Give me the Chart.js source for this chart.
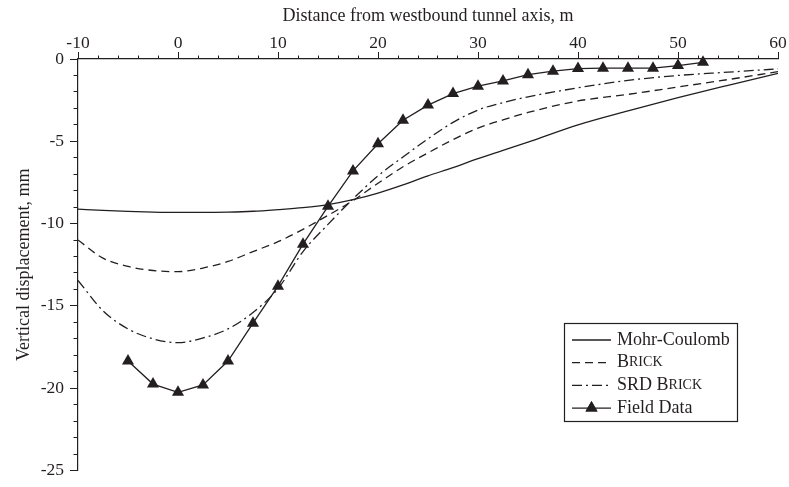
<!DOCTYPE html>
<html>
<head>
<meta charset="utf-8">
<script src="https://cdn.jsdelivr.net/npm/chart.js@4.4.1/dist/chart.umd.min.js"></script>
<style>
  html, body { margin: 0; padding: 0; background: #fff; }
  #wrap { width: 789px; height: 487px; position: relative; }
</style>
</head>
<body>
<div id="wrap"><canvas id="chart"></canvas></div>
<script>
// ============================================
// Data (mm vs m)
// ============================================
const curveX = [-10, -7.5, -5, -2.5, 0, 2.5, 5, 7.5, 10, 12.5, 15, 17.5, 20, 22.5, 25, 27.5, 30, 32.5, 35, 40, 45, 50, 55, 60];
const mohrCoulomb = [-9.12, -9.2, -9.26, -9.3, -9.32, -9.32, -9.3, -9.25, -9.15, -9.03, -8.85, -8.55, -8.15, -7.65, -7.1, -6.6, -6.05, -5.55, -5.05, -4.0, -3.15, -2.35, -1.6, -0.87];
const brick = [-11.0, -12.1, -12.6, -12.85, -12.92, -12.7, -12.3, -11.7, -11.1, -10.35, -9.5, -8.6, -7.55, -6.55, -5.7, -4.9, -4.2, -3.7, -3.25, -2.55, -2.15, -1.7, -1.25, -0.77];
const srdBrick = [-13.45, -15.3, -16.4, -17.0, -17.23, -16.95, -16.4, -15.4, -13.95, -11.7, -10.05, -8.5, -7.1, -5.95, -4.85, -3.85, -3.1, -2.65, -2.3, -1.75, -1.3, -1.0, -0.8, -0.6];

const fieldX = [-5, -2.5, 0, 2.5, 5, 7.5, 10, 12.5, 15, 17.5, 20, 22.5, 25, 27.5, 30, 32.5, 35, 37.5, 40, 42.5, 45, 47.5, 50, 52.5];
const fieldData = [-18.35, -19.75, -20.25, -19.8, -18.35, -16.05, -13.8, -11.25, -8.95, -6.8, -5.15, -3.72, -2.8, -2.1, -1.65, -1.33, -0.95, -0.74, -0.58, -0.56, -0.56, -0.56, -0.4, -0.2];

const seriesLabels = ["Mohr-Coulomb", "Brick", "SRD Brick", "Field Data"];
// "Brick" is typeset in small capitals in the original
const smallCapsLabels = ["Brick", "SRD Brick"];

const xRange = [-10, 60];
const yRange = [-25, 0];
const xStep = 10, xMinorStep = 2;
const yStep = 5, yMinorStep = 1;

// ============================================
// Styles
// ============================================
const INK = "#231f20";
const SERIF = "'Liberation Serif', 'Times New Roman', serif";

const toPoints = (xs, ys) => xs.map((x, i) => ({ x: x, y: ys[i] }));

function curve(label, data, dash) {
  return {
    label: label,
    data: toPoints(curveX, data),
    borderColor: INK,
    borderWidth: 1.3,
    borderDash: dash,
    pointRadius: 0,
    fill: false,
    cubicInterpolationMode: "monotone",
  };
}

// small caps: capitals full size, lower case letters as smaller capitals
function drawSmallCaps(ctx, text, x, y, size) {
  let cx = x;
  for (const ch of text) {
    const lower = ch !== ch.toUpperCase();
    ctx.font = `${lower ? size * 0.78 : size}px ${SERIF}`;
    const c = ch.toUpperCase();
    ctx.fillText(c, cx, y);
    cx += ctx.measureText(c).width;
  }
}

const insideLegend = {
  id: "insideLegend",
  afterDatasetsDraw(chart) {
    const { ctx, chartArea } = chart;
    const x0 = chartArea.right - 214;
    const y0 = chartArea.top + 264;
    const w = 173, h = 98;
    ctx.save();
    ctx.fillStyle = "#fff";
    ctx.fillRect(x0, y0, w, h);
    ctx.strokeStyle = INK;
    ctx.lineWidth = 1.2;
    ctx.strokeRect(x0 + 0.5, y0 + 0.5, w, h);

    chart.data.datasets.forEach((ds, i) => {
      const ry = y0 + 17 + i * 22.7;
      ctx.strokeStyle = INK;
      ctx.lineWidth = ds.borderWidth;
      ctx.setLineDash(ds.borderDash || []);
      ctx.beginPath();
      ctx.moveTo(x0 + 8, ry);
      ctx.lineTo(x0 + 47, ry);
      ctx.stroke();
      ctx.setLineDash([]);
      if (ds.pointStyle === "triangle") {
        ctx.fillStyle = INK;
        Chart.helpers.drawPoint(ctx, { pointStyle: "triangle", radius: ds.pointRadius, borderWidth: 0 }, x0 + 27.5, ry);
        ctx.fill();
      }
      ctx.fillStyle = INK;
      ctx.textBaseline = "middle";
      ctx.textAlign = "left";
      if (smallCapsLabels.includes(ds.label)) {
        drawSmallCaps(ctx, ds.label, x0 + 53, ry, 18);
      } else {
        ctx.font = `18px ${SERIF}`;
        ctx.fillText(ds.label, x0 + 53, ry);
      }
    });
    ctx.restore();
  },
};

// ============================================
// Chart
// ============================================
const ctx = document.getElementById("chart").getContext("2d");

new Chart(ctx, {
  type: "line",
  data: {
    datasets: [
      curve(seriesLabels[0], mohrCoulomb, []),
      curve(seriesLabels[1], brick, [8, 5]),
      curve(seriesLabels[2], srdBrick, [10, 4, 2, 4]),
      {
        label: seriesLabels[3],
        data: toPoints(fieldX, fieldData),
        borderColor: INK,
        borderWidth: 1.3,
        borderDash: [],
        pointStyle: "triangle",
        pointRadius: 7,
        pointBackgroundColor: INK,
        pointBorderColor: INK,
        pointBorderWidth: 0,
        tension: 0,
        clip: false,
      },
    ],
  },
  options: {
    responsive: true,
    maintainAspectRatio: false,
    animation: false,
    layout: { padding: { left: 0, top: 0, right: 11, bottom: 14 } },
    plugins: {
      legend: { display: false },
      tooltip: { enabled: false },
    },
    scales: {
      x: {
        type: "linear",
        position: "top",
        weight: 1,
        min: xRange[0],
        max: xRange[1],
        ticks: {
          stepSize: xStep,
          autoSkip: false,
          maxRotation: 0,
          padding: -2,
          color: INK,
          font: { family: SERIF, size: 17.5 },
        },
        grid: { drawOnChartArea: false, tickLength: 7, tickColor: INK, tickWidth: 1 },
        border: { color: INK, width: 1.2 },
        title: {
          display: true,
          text: "Distance from westbound tunnel axis, m",
          color: INK,
          font: { family: SERIF, size: 18 },
          padding: { top: 5, bottom: 0 },
        },
        afterFit: (scale) => { scale.height = 59; },
      },
      xMinor: {
        type: "linear",
        position: "top",
        weight: 0,
        min: xRange[0],
        max: xRange[1],
        ticks: { stepSize: xMinorStep, autoSkip: false, callback: () => "" },
        grid: { drawOnChartArea: false, tickLength: 3.5, tickColor: INK, tickWidth: 1 },
        border: { display: false },
        afterFit: (scale) => { scale.height = 0; },
      },
      y: {
        type: "linear",
        position: "left",
        weight: 1,
        min: yRange[0],
        max: yRange[1],
        ticks: {
          stepSize: yStep,
          autoSkip: false,
          padding: 6,
          color: INK,
          font: { family: SERIF, size: 17.5 },
        },
        grid: { drawOnChartArea: false, tickLength: 8, tickColor: INK, tickWidth: 1 },
        border: { color: INK, width: 1.2 },
        title: {
          display: true,
          text: "Vertical displacement, mm",
          color: INK,
          font: { family: SERIF, size: 18 },
          padding: { top: 13, bottom: 0 },
        },
        afterFit: (scale) => { scale.width = 78; },
      },
      yMinor: {
        type: "linear",
        position: "left",
        weight: 0,
        min: yRange[0],
        max: yRange[1],
        ticks: { stepSize: yMinorStep, autoSkip: false, callback: () => "" },
        grid: { drawOnChartArea: false, tickLength: 4.5, tickColor: INK, tickWidth: 1 },
        border: { display: false },
        afterFit: (scale) => { scale.width = 0; },
      },
    },
  },
  plugins: [insideLegend],
});
</script>
</body>
</html>
